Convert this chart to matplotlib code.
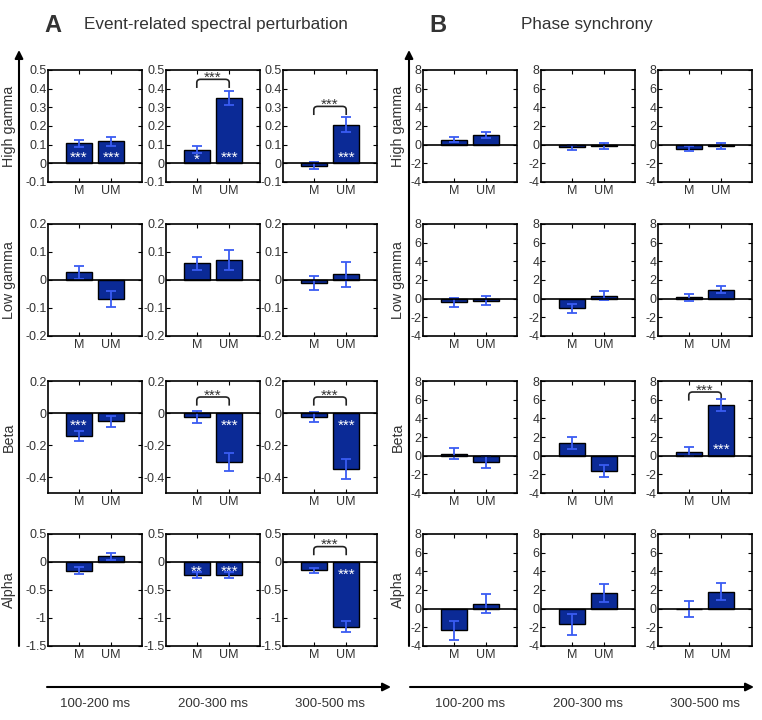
"""ERSP and phase synchrony bar grid: M vs UM, per band and time window."""

import matplotlib
matplotlib.use("Agg")
import matplotlib.pyplot as plt
import numpy as np
from matplotlib.path import Path
from matplotlib.patches import PathPatch

plt.rcParams["font.family"] = ["Liberation Sans", "DejaVu Sans"]

BANDS = ["High gamma", "Low gamma", "Beta", "Alpha"]
WINDOWS = ["100-200 ms", "200-300 ms", "300-500 ms"]
CONDS = ["M", "UM"]

# panel A: event-related spectral perturbation, [band][window][cond]
ERSP_MEAN = [
    [[0.107, 0.118], [0.073, 0.350], [-0.012, 0.208]],
    [[0.027, -0.067], [0.060, 0.072], [-0.010, 0.020]],
    [[-0.142, -0.053], [-0.026, -0.306], [-0.026, -0.350]],
    [[-0.155, 0.104], [-0.235, -0.235], [-0.150, -1.155]],
]
ERSP_ERR = [
    [[0.020, 0.025], [0.020, 0.040], [0.021, 0.040]],
    [[0.022, 0.029], [0.023, 0.035], [0.024, 0.046]],
    [[0.031, 0.035], [0.036, 0.054], [0.031, 0.060]],
    [[0.060, 0.060], [0.050, 0.055], [0.050, 0.100]],
]
ERSP_STARS = [
    [["***", "***"], ["*", "***"], ["", "***"]],
    [["", ""], ["", ""], ["", ""]],
    [["***", ""], ["", "***"], ["", "***"]],
    [["", ""], ["**", "***"], ["", "***"]],
]
ERSP_BRACKET = [[None, 0.45, 0.305], [None, None, None], [None, 0.10, 0.10], [None, None, 0.275]]
ERSP_YLIM = [(-0.1, 0.5), (-0.2, 0.2), (-0.5, 0.2), (-1.5, 0.5)]
ERSP_YTICKS = [
    [-0.1, 0, 0.1, 0.2, 0.3, 0.4, 0.5],
    [-0.2, -0.1, 0, 0.1, 0.2],
    [-0.4, -0.2, 0, 0.2],
    [-1.5, -1, -0.5, 0, 0.5],
]

# panel B: phase synchrony
PS_MEAN = [
    [[0.55, 1.06], [-0.30, -0.11], [-0.45, -0.12]],
    [[-0.39, -0.22], [-1.02, 0.30], [0.15, 0.95]],
    [[0.22, -0.68], [1.36, -1.66], [0.43, 5.47]],
    [[-2.33, 0.54], [-1.67, 1.65], [-0.06, 1.82]],
]
PS_ERR = [
    [[0.30, 0.33], [0.30, 0.33], [0.27, 0.30]],
    [[0.50, 0.48], [0.50, 0.48], [0.40, 0.38]],
    [[0.55, 0.60], [0.60, 0.66], [0.50, 0.65]],
    [[1.02, 0.99], [1.10, 0.98], [0.84, 0.90]],
]
PS_STARS = [
    [["", ""], ["", ""], ["", ""]],
    [["", ""], ["", ""], ["", ""]],
    [["", ""], ["", ""], ["", "***"]],
    [["", ""], ["", ""], ["", ""]],
]
PS_BRACKET = [[None, None, None], [None, None, None], [None, None, 6.82], [None, None, None]]
PS_YLIM = [(-4, 8)] * 4
PS_YTICKS = [[-4, -2, 0, 2, 4, 6, 8]] * 4

BAR_COLOR = "#0b2a96"
ERR_COLOR = "#3a5cf2"
TEXT_COLOR = "#333333"

W, H = 762, 720
COL_LEFT_A = [48, 166, 283]
COL_LEFT_B = [423, 541, 658]
ROW_TOP = [70, 224, 381, 534]
AX_W, AX_H = 94, 112


def bracket(ax, x1, x2, y_top, span):
    drop = 0.077 * span
    r = 0.03 * span
    rx = 0.12
    verts = [(x1, y_top - drop), (x1, y_top - r), (x1, y_top), (x1 + rx, y_top),
             (x2 - rx, y_top), (x2, y_top), (x2, y_top - r), (x2, y_top - drop)]
    codes = [Path.MOVETO, Path.LINETO, Path.CURVE3, Path.CURVE3,
             Path.LINETO, Path.CURVE3, Path.CURVE3, Path.LINETO]
    ax.add_patch(PathPatch(Path(verts, codes), fill=False, color="#222222", lw=1.2))
    # asterisks sit high in the glyph box, so anchor a bit lower
    ax.text((x1 + x2) / 2, y_top + 0.015 * span, "***", ha="center", va="center",
            fontsize=11, color="#333333")


def draw_panel(fig, lefts, means, errs, stars, brackets, ylims, yticks):
    x = np.arange(1, len(CONDS) + 1)
    for r in range(len(BANDS)):
        for c in range(len(WINDOWS)):
            ax = fig.add_axes([lefts[c] / W, 1 - (ROW_TOP[r] + AX_H) / H, AX_W / W, AX_H / H])
            m = np.array(means[r][c])
            e = np.array(errs[r][c])
            ax.bar(x, m, width=0.8, color=BAR_COLOR, edgecolor="black", lw=1.0, zorder=2)
            ax.errorbar(x, m, yerr=e, fmt="none", ecolor=ERR_COLOR, elinewidth=1.3,
                        capsize=3.8, capthick=1.3, zorder=3)
            ax.axhline(0, color="black", lw=1.2, zorder=4)
            lo, hi = ylims[r]
            span = hi - lo
            off = 0.08 * span
            for i, s in enumerate(stars[r][c]):
                if not s:
                    continue
                v = m[i]
                y = v / 2 if abs(v) < 2 * off else np.sign(v) * off
                ax.text(x[i], y - 0.03 * span, s, ha="center", va="center", fontsize=11,
                        color="white", zorder=5)
            if brackets[r][c] is not None:
                bracket(ax, x[0], x[1], brackets[r][c], span)
            ax.set_xlim(0.05, 2.95)
            ax.set_ylim(lo, hi)
            ax.set_xticks(x)
            ax.set_xticklabels(CONDS)
            ax.set_yticks(yticks[r])
            ax.set_yticklabels([f"{t:g}" for t in yticks[r]])
            ax.tick_params(direction="in", length=3, width=0.8, top=True, right=True,
                           labelsize=9, labelcolor=TEXT_COLOR, pad=2)
            ax.tick_params(axis="y", pad=1)
            for sp in ax.spines.values():
                sp.set_linewidth(1.2)


def main():
    fig = plt.figure(figsize=(W / 100, H / 100), dpi=100)

    draw_panel(fig, COL_LEFT_A, ERSP_MEAN, ERSP_ERR, ERSP_STARS, ERSP_BRACKET,
               ERSP_YLIM, ERSP_YTICKS)
    draw_panel(fig, COL_LEFT_B, PS_MEAN, PS_ERR, PS_STARS, PS_BRACKET,
               PS_YLIM, PS_YTICKS)

    # overlay in pixel coords for titles, arrows and labels
    bg = fig.add_axes([0, 0, 1, 1], zorder=-1)
    bg.set_xlim(0, W)
    bg.set_ylim(H, 0)
    bg.axis("off")

    bg.text(53, 25, "A", fontsize=17, fontweight="bold", color=TEXT_COLOR, ha="center", va="center")
    bg.text(216, 25, "Event-related spectral perturbation", fontsize=12.3, color=TEXT_COLOR,
            ha="center", va="center")
    bg.text(438, 25, "B", fontsize=17, fontweight="bold", color=TEXT_COLOR, ha="center", va="center")
    bg.text(587, 25, "Phase synchrony", fontsize=12.3, color=TEXT_COLOR, ha="center", va="center")

    arrow = dict(arrowstyle="-|>", color="black", lw=1.5, mutation_scale=12, shrinkA=0, shrinkB=0)
    for vx, hx0, hx1, lefts, lab_x in [(19, 47, 391, COL_LEFT_A, 9), (409, 410, 754, COL_LEFT_B, 398)]:
        bg.annotate("", xy=(vx, 50), xytext=(vx, 646), arrowprops=arrow)
        bg.annotate("", xy=(hx1, 687), xytext=(hx0, 687), arrowprops=arrow)
        for c, win in enumerate(WINDOWS):
            bg.text(lefts[c] + AX_W / 2, 704, win, fontsize=9.5, color=TEXT_COLOR,
                    ha="center", va="center")
        for r, band in enumerate(BANDS):
            bg.text(lab_x, ROW_TOP[r] + AX_H / 2, band, fontsize=10.3, color=TEXT_COLOR,
                    rotation=90, ha="center", va="center")

    fig.savefig("out.png", dpi=100)
    plt.close(fig)


if __name__ == "__main__":
    main()
